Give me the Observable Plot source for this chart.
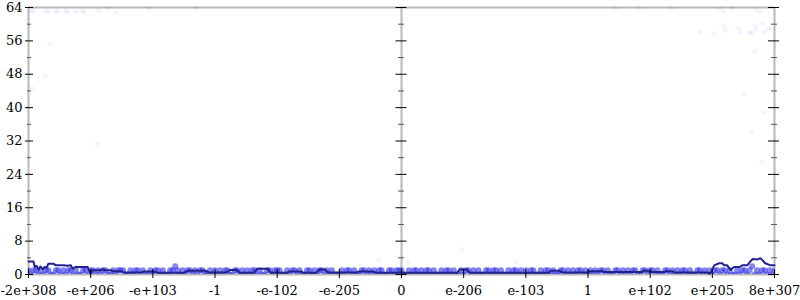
<!DOCTYPE html>
<html><head><meta charset="utf-8">
<script src="https://cdn.jsdelivr.net/npm/d3@7"></script>
<script src="https://cdn.jsdelivr.net/npm/@observablehq/plot@0.6"></script>
<style>
body{margin:0;background:#fff;}
svg{display:block;}
#chart svg text{font-family:"DejaVu Serif", serif !important; font-size:13px !important; font-variant:normal !important;}
</style>
</head><body><div id="chart"></div>
<script>
// x axis: ticks in transformed (float-ordering) space, labels as shown
const tickPos = [-6,-5,-4,-3,-2,-1,0,1,2,3,4,5,6];
const tickLabels = ["-2e+308","-e+206","-e+103","-1","-e-102","-e-205","0","e-206","e-103","1","e+102","e+205","8e+307"];
const yMajor = [0,8,16,24,32,40,48,56,64];
const yMinor = [4,12,20,28,36,44,52,60];

// running-average line
const lineX = [-6.0,-5.92,-5.90,-5.87,-5.84,-5.81,-5.77,-5.74,-5.71,-5.68,-5.60,-5.56,-5.44,-5.37,-5.32,-5.29,-5.24,-5.05,-5.00,-4.97,-4.84,-4.81,-4.76,-4.68,-4.63,-4.52,-4.47,-4.19,-4.15,-3.98,-3.92,-3.50,-3.44,-3.15,-3.10,-2.81,-2.76,-2.65,-2.60,-2.37,-2.32,-2.15,-2.10,-1.84,-1.81,-1.61,-1.58,-1.37,-1.32,-1.23,-1.18,-0.73,-0.69,-0.45,-0.40,0.89,0.94,1.05,1.10,2.37,2.40,2.53,2.58,3.00,3.03,3.23,3.26,3.87,3.90,3.97,4.00,4.23,4.26,4.35,4.39,4.92,4.95,4.98,5.03,5.11,5.16,5.19,5.24,5.29,5.35,5.44,5.48,5.56,5.61,5.65,5.73,5.77,5.81,5.85,5.94,6.0];
const lineY = [3.1,3.1,1.8,2.1,1.1,1.9,1.3,1.8,1.6,2.6,2.6,2.2,2.2,2.1,2.2,1.4,1.8,1.8,0.2,1.0,1.0,1.3,1.0,1.0,0.8,0.8,0.5,0.5,0.7,0.7,0.4,0.4,0.9,0.9,0.5,0.5,1.1,1.1,0.4,0.4,1.4,1.4,0.4,0.4,0.7,0.7,0.4,0.4,1.2,1.2,0.5,0.5,0.7,0.7,0.4,0.4,1.2,1.2,0.4,0.4,0.9,0.9,0.5,0.5,0.8,0.8,0.6,0.6,0.9,0.9,0.6,0.6,0.8,0.8,0.5,0.5,0.2,0.6,2.2,2.7,2.7,2.2,2.2,1.1,1.8,1.8,2.2,2.2,3.1,3.7,3.6,3.9,3.4,2.7,2.2,2.2];

// dense samples (regularly spaced along x), value per sample
const bandStart = -6, bandStep = 0.04;
const bandY = [
1,0,1,1,0,1,0,1,1,0,0,1,1,0,1,0,1,1,0,1,0,0,1,1,0,
1,1,0,1,0,1,1,0,0,1,0,1,1,1,0,0,1,0,1,1,0,1,0,0,1,
0,1,1,0,1,0,0,1,1,2,1,0,1,0,1,1,0,1,0,1,1,0,0,1,0,
1,0,1,0,1,1,0,0,1,1,0,1,0,1,0,1,1,0,1,0,0,1,1,0,1,
1,1,0,0,1,0,1,1,0,1,0,0,1,1,0,1,0,1,1,0,1,0,1,0,0,
0,1,0,1,1,0,1,0,0,1,1,0,1,0,1,0,1,1,0,0,1,1,0,1,1,
1,0,0,1,0,1,1,0,1,0,1,1,0,1,0,0,1,0,1,1,0,1,0,0,1,
0,1,1,0,1,0,1,0,0,1,1,0,1,1,0,1,0,0,1,0,1,1,0,1,0,
1,0,1,1,0,0,1,0,1,1,0,1,0,0,1,1,0,1,0,1,0,1,1,0,1,
0,1,0,1,0,1,1,0,1,0,0,1,1,0,1,0,1,0,1,1,0,0,1,1,0,
1,1,0,1,0,0,1,1,0,1,0,1,0,1,1,0,1,0,0,1,1,0,1,0,1,
0,1,1,0,1,1,0,1,0,0,1,0,1,1,0,1,2,0,1,0,1,1,0,1,0,
1];

// sparse high samples
const outX = [-5.97,-5.92,-5.73,-5.68,-5.56,-5.53,-5.40,-5.37,-5.24,-5.13,-5.11,-4.87,-4.73,-4.60,-4.06,-3.31,-5.66,-5.73,-5.95,-4.89,
 3.44,3.82,4.34,5.13,5.19,5.32,5.69,5.76,5.19,5.21,4.81,5.03,5.42,5.45,5.60,5.63,5.69,5.69,5.81,5.84,5.90,5.94,5.68,5.52,5.82,5.63,5.79,
 0.97,1.85,-0.37,0.11];
const outY = [63.2,63.2,63.2,63.0,63.2,63.0,63.2,63.0,63.0,63.2,63.0,63.2,63.8,62.8,63.8,63.8,55.2,47.5,44.6,31.2,
 63.8,63.8,63.8,63.8,63.0,63.8,63.5,63.0,59.7,58.5,58.3,57.8,59.0,58.0,58.0,58.0,59.7,58.8,60.2,58.0,58.8,59.0,53.5,43.4,38.8,34.3,26.9,
 6.0,2.9,3.6,2.9];

const band = bandY.map((y, i) => ({x: bandStart + i * bandStep, y}));
const outliers = outX.map((x, i) => ({x, y: outY[i]}));
const line = lineX.map((x, i) => ({x, y: lineY[i]}));

const gray = "#b8b8b8";
const chart = Plot.plot({
  width: 800, height: 300,
  marginLeft: 28, marginRight: 26, marginTop: 7, marginBottom: 26,
  style: {background: "#fff", color: "#000"},
  x: {domain: [-6, 6], label: null},
  y: {domain: [0, 64], label: null},
  marks: [
    Plot.ruleY([0, 64], {x1: -6, x2: 6, stroke: gray, strokeWidth: 2}),
    Plot.ruleX([-6, 0, 6], {y1: 0, y2: 64, stroke: gray, strokeWidth: 2}),
    Plot.dot(band, {x: "x", y: "y", r: 3, fill: "#3434e6", fillOpacity: 0.6, stroke: "none", clip: true}),
    Plot.dot(outliers, {x: "x", y: "y", r: 2.5, fill: "#4040ff", fillOpacity: 0.06, stroke: "none"}),
    Plot.line(line, {x: "x", y: "y", stroke: "#22228e", strokeWidth: 2}),
    // left axis ticks
    Plot.ruleY(yMajor, {y: d => d, x1: -6, x2: -6, insetLeft: -3, insetRight: -5, stroke: "#000"}),
    Plot.ruleY(yMinor, {y: d => d, x1: -6, x2: -6, insetLeft: -1, insetRight: -3, stroke: "#555"}),
    // right axis ticks
    Plot.ruleY(yMajor, {y: d => d, x1: 6, x2: 6, insetLeft: -6, insetRight: -5, stroke: "#000"}),
    Plot.ruleY(yMinor, {y: d => d, x1: 6, x2: 6, insetLeft: -3, insetRight: -3, stroke: "#555"}),
    // center ticks
    Plot.ruleY(yMajor, {y: d => d, x1: 0, x2: 0, insetLeft: -5.5, insetRight: -5.5, stroke: "#000"}),
    Plot.ruleY(yMinor, {y: d => d, x1: 0, x2: 0, insetLeft: -3, insetRight: -3, stroke: "#555"}),
    // bottom ticks
    Plot.ruleX(tickPos, {x: d => d, y1: 0, y2: 0, insetTop: -5, insetBottom: -4, stroke: "#000"}),
    Plot.axisY({anchor: "left", ticks: yMajor, tickSize: 0, tickPadding: 6, label: null, tickFormat: d => String(d)}),
    Plot.axisX({anchor: "bottom", ticks: tickPos, tickSize: 0, tickPadding: 11, label: null, tickFormat: d => tickLabels[tickPos.indexOf(d)]})
  ]
});
document.getElementById("chart").appendChild(chart);
</script>
</body></html>
